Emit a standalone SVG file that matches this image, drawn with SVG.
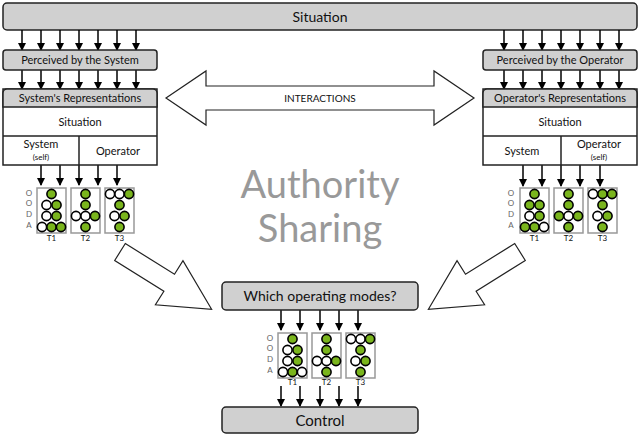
<svg xmlns="http://www.w3.org/2000/svg" width="640" height="436" viewBox="0 0 640 436">
<defs>
<marker id="ah" markerWidth="8" markerHeight="8" refX="7" refY="4" orient="auto" markerUnits="userSpaceOnUse"><path d="M0,0 L8,4 L0,8 Z" fill="#000"/></marker>
<g id="g"><circle r="4.6" fill="#7ab51d" stroke="#000" stroke-width="1.6"/></g>
<g id="w"><circle r="4.6" fill="#fff" stroke="#000" stroke-width="1.6"/></g>
</defs>
<style>
text{font-family:"Lato","DejaVu Sans",sans-serif;fill:#111}
.box{fill:#d0d0d0;stroke:#222;stroke-width:1.5}
.wb{fill:#fff;stroke:#222;stroke-width:1.5}
.ar{stroke:#000;stroke-width:1.5;marker-end:url(#ah)}
.gb{fill:#fff;stroke:#999;stroke-width:1.5}
.s{font-size:11px}
.t{font-size:8px;text-anchor:middle}
.od{font-size:8px;fill:#666;text-anchor:middle}
.hol{fill:#fff;stroke:#222;stroke-width:1.2}
</style>
<g id="situation"><rect class="box" x="3" y="3" width="634" height="27" rx="4"/><text x="320" y="22" font-size="14" text-anchor="middle">Situation</text></g>
<g id="connectors">
<g class="ar">
<line x1="22" y1="30" x2="22" y2="50"/><line x1="41" y1="30" x2="41" y2="50"/><line x1="60" y1="30" x2="60" y2="50"/><line x1="79" y1="30" x2="79" y2="50"/><line x1="98" y1="30" x2="98" y2="50"/><line x1="117" y1="30" x2="117" y2="50"/><line x1="136" y1="30" x2="136" y2="50"/>
<line x1="22" y1="70" x2="22" y2="89"/><line x1="41" y1="70" x2="41" y2="89"/><line x1="60" y1="70" x2="60" y2="89"/><line x1="79" y1="70" x2="79" y2="89"/><line x1="98" y1="70" x2="98" y2="89"/><line x1="117" y1="70" x2="117" y2="89"/><line x1="136" y1="70" x2="136" y2="89"/>
<line x1="41" y1="165" x2="41" y2="185"/><line x1="60" y1="165" x2="60" y2="185"/><line x1="79" y1="165" x2="79" y2="185"/><line x1="98" y1="165" x2="98" y2="185"/><line x1="117" y1="165" x2="117" y2="185"/>
<line x1="504" y1="30" x2="504" y2="50"/><line x1="523" y1="30" x2="523" y2="50"/><line x1="542" y1="30" x2="542" y2="50"/><line x1="561" y1="30" x2="561" y2="50"/><line x1="580" y1="30" x2="580" y2="50"/><line x1="600" y1="30" x2="600" y2="50"/><line x1="619" y1="30" x2="619" y2="50"/>
<line x1="504" y1="70" x2="504" y2="89"/><line x1="523" y1="70" x2="523" y2="89"/><line x1="542" y1="70" x2="542" y2="89"/><line x1="561" y1="70" x2="561" y2="89"/><line x1="580" y1="70" x2="580" y2="89"/><line x1="600" y1="70" x2="600" y2="89"/><line x1="619" y1="70" x2="619" y2="89"/>
<line x1="523" y1="165" x2="523" y2="186"/><line x1="542" y1="165" x2="542" y2="186"/><line x1="561" y1="165" x2="561" y2="186"/><line x1="580" y1="165" x2="580" y2="186"/><line x1="600" y1="165" x2="600" y2="186"/>
<line x1="281" y1="310" x2="281" y2="330"/><line x1="300" y1="310" x2="300" y2="330"/><line x1="320" y1="310" x2="320" y2="330"/><line x1="339" y1="310" x2="339" y2="330"/><line x1="358" y1="310" x2="358" y2="330"/>
<line x1="281" y1="386" x2="281" y2="406"/><line x1="300" y1="386" x2="300" y2="406"/><line x1="320" y1="386" x2="320" y2="406"/><line x1="339" y1="386" x2="339" y2="406"/><line x1="358" y1="386" x2="358" y2="406"/>
</g>
<polygon class="hol" points="166,98 206,71 206,86 434,86 434,71 474,98 434,125 434,110 206,110 206,125"/>
<polygon class="hol" transform="translate(120,252) rotate(32)" points="0,-10 58,-10 58,-26 108,0 58,26 58,10 0,10"/>
<polygon class="hol" transform="translate(520,252) rotate(148)" points="0,-10 58,-10 58,-26 108,0 58,26 58,10 0,10"/>
</g>
<text x="320" y="102" font-size="10" text-anchor="middle">INTERACTIONS</text>
<text x="320" y="198" font-size="38" fill="#999" style="fill:#999" text-anchor="middle">Authority</text>
<text x="320" y="242" font-size="38" style="fill:#999" text-anchor="middle">Sharing</text>
<g id="perc-sys"><rect class="box" x="3" y="50" width="154" height="20" rx="3"/><text class="s" x="80" y="64" text-anchor="middle">Perceived by the System</text></g>
<g id="rep-sys">
<rect class="wb" x="3" y="89" width="154" height="76"/>
<path d="M3,107 V93 a4,4 0 0 1 4,-4 H153 a4,4 0 0 1 4,4 V107 Z" class="box"/>
<line x1="3" y1="136" x2="157" y2="136" stroke="#222" stroke-width="1.5"/>
<line x1="79" y1="136" x2="79" y2="165" stroke="#222" stroke-width="1.5"/>
<text class="s" x="80" y="102" text-anchor="middle">System's Representations</text>
<text class="s" x="80" y="126" text-anchor="middle">Situation</text>
<text class="s" x="41" y="148" text-anchor="middle">System</text>
<text x="41" y="160" font-size="8" text-anchor="middle">(self)</text>
<text class="s" x="118" y="155" text-anchor="middle">Operator</text>
</g>
<g id="perc-op"><rect class="box" x="483" y="50" width="154" height="20" rx="3"/><text class="s" x="560" y="64" text-anchor="middle">Perceived by the Operator</text></g>
<g id="rep-op">
<rect class="wb" x="483" y="89" width="154" height="76"/>
<path d="M483,107 V93 a4,4 0 0 1 4,-4 H633 a4,4 0 0 1 4,4 V107 Z" class="box"/>
<line x1="483" y1="136" x2="637" y2="136" stroke="#222" stroke-width="1.5"/>
<line x1="561" y1="136" x2="561" y2="165" stroke="#222" stroke-width="1.5"/>
<text class="s" x="560" y="102" text-anchor="middle">Operator's Representations</text>
<text class="s" x="560" y="126" text-anchor="middle">Situation</text>
<text class="s" x="522" y="155" text-anchor="middle">System</text>
<text class="s" x="599" y="148" text-anchor="middle">Operator</text>
<text x="599" y="160" font-size="8" text-anchor="middle">(self)</text>
</g>
<g id="modes"><rect class="box" x="222" y="282" width="196" height="28" rx="4"/><text x="320" y="301" font-size="14" text-anchor="middle">Which operating modes?</text></g>
<g id="control"><rect class="box" x="222" y="407" width="196" height="26" rx="4"/><text x="320" y="426" font-size="15" text-anchor="middle">Control</text></g>

<!-- left grids -->
<g id="ooda-left">
<text class="od" x="29" y="196">O</text><text class="od" x="29" y="206">O</text><text class="od" x="29" y="217">D</text><text class="od" x="29" y="228">A</text>
<rect class="gb" x="37" y="188" width="29" height="45"/><rect class="gb" x="71" y="188" width="29" height="45"/><rect class="gb" x="105" y="188" width="29" height="45"/>
<use href="#g" x="51.5" y="194"/><use href="#w" x="46.5" y="205"/><use href="#g" x="56.5" y="205"/><use href="#w" x="46.5" y="216"/><use href="#g" x="56.5" y="216"/><use href="#w" x="42" y="227"/><use href="#g" x="51.5" y="227"/><use href="#g" x="61" y="227"/>
<use href="#g" x="85.5" y="194"/><use href="#g" x="85.5" y="205"/><use href="#w" x="76" y="216"/><use href="#w" x="85.5" y="216"/><use href="#g" x="95" y="216"/><use href="#g" x="85.5" y="227"/>
<use href="#w" x="110" y="194"/><use href="#w" x="119.5" y="194"/><use href="#g" x="129" y="194"/><use href="#g" x="119.5" y="205"/><use href="#w" x="114.5" y="216"/><use href="#g" x="124.5" y="216"/><use href="#g" x="119.5" y="227"/>
<text class="t" x="51.5" y="241">T1</text><text class="t" x="85.5" y="241">T2</text><text class="t" x="119.5" y="241">T3</text>
</g>
<g id="ooda-right">
<text class="od" x="511" y="196">O</text><text class="od" x="511" y="206">O</text><text class="od" x="511" y="217">D</text><text class="od" x="511" y="228">A</text>
<rect class="gb" x="520" y="188" width="29" height="45"/><rect class="gb" x="554" y="188" width="29" height="45"/><rect class="gb" x="588" y="188" width="29" height="45"/>
<use href="#g" x="534.5" y="194"/><use href="#g" x="529.5" y="205"/><use href="#g" x="539.5" y="205"/><use href="#w" x="529.5" y="216"/><use href="#g" x="539.5" y="216"/><use href="#g" x="525" y="227"/><use href="#g" x="534.5" y="227"/><use href="#w" x="544" y="227"/>
<use href="#g" x="568.5" y="194"/><use href="#g" x="568.5" y="205"/><use href="#g" x="559" y="216"/><use href="#w" x="568.5" y="216"/><use href="#g" x="578" y="216"/><use href="#g" x="568.5" y="227"/>
<use href="#w" x="593" y="194"/><use href="#g" x="602.5" y="194"/><use href="#g" x="612" y="194"/><use href="#g" x="602.5" y="205"/><use href="#w" x="597.5" y="216"/><use href="#g" x="607.5" y="216"/><use href="#g" x="602.5" y="227"/>
<text class="t" x="534.5" y="241">T1</text><text class="t" x="568.5" y="241">T2</text><text class="t" x="602.5" y="241">T3</text>
</g>
<g id="ooda-center">
<text class="od" x="270" y="341">O</text><text class="od" x="270" y="351">O</text><text class="od" x="270" y="362">D</text><text class="od" x="270" y="373">A</text>
<rect class="gb" x="278" y="333" width="29" height="45"/><rect class="gb" x="312" y="333" width="29" height="45"/><rect class="gb" x="346" y="333" width="29" height="45"/>
<use href="#g" x="292.5" y="339"/><use href="#w" x="287.5" y="350"/><use href="#g" x="297.5" y="350"/><use href="#w" x="287.5" y="361"/><use href="#g" x="297.5" y="361"/><use href="#w" x="283" y="372"/><use href="#g" x="292.5" y="372"/><use href="#w" x="302" y="372"/>
<use href="#g" x="326.5" y="339"/><use href="#g" x="326.5" y="350"/><use href="#w" x="317" y="361"/><use href="#w" x="326.5" y="361"/><use href="#g" x="336" y="361"/><use href="#g" x="326.5" y="372"/>
<use href="#w" x="351" y="339"/><use href="#w" x="360.5" y="339"/><use href="#g" x="370" y="339"/><use href="#g" x="360.5" y="350"/><use href="#w" x="355.5" y="361"/><use href="#g" x="365.5" y="361"/><use href="#g" x="360.5" y="372"/>
<text class="t" x="292.5" y="385">T1</text><text class="t" x="326.5" y="385">T2</text><text class="t" x="360.5" y="385">T3</text>
</g>
</svg>
